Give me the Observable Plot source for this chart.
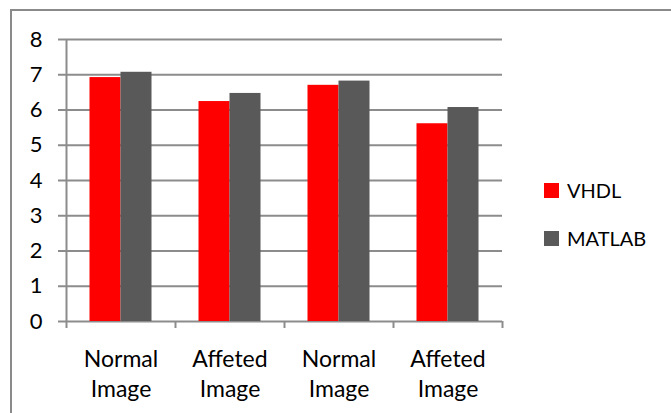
<!DOCTYPE html>
<html>
<head>
<meta charset="utf-8">
<script src="https://cdn.jsdelivr.net/npm/d3@7"></script>
<script src="https://cdn.jsdelivr.net/npm/@observablehq/plot@0.6"></script>
<style>
  html, body { margin: 0; padding: 0; background: #fff; }
  #wrap { position: relative; width: 671px; height: 413px; overflow: hidden; font-family: Lato, "Open Sans", sans-serif; }
  #box { position: absolute; left: 10px; top: 9px; width: 700px; height: 500px;
         border-left: 2px solid #8a8a8a; border-top: 2px solid #8a8a8a; }
  #chart { position: absolute; left: 0; top: 0; }
  #legend { position: absolute; left: 544px; top: 176px; font-size: 20px; color: #000; }
  .item { display: flex; align-items: center; height: 28px; margin-bottom: 20px; }
  .sw { width: 15px; height: 15px; margin-right: 8px; }
</style>
</head>
<body>
<div id="wrap">
  <div id="box"></div>
  <div id="chart"></div>
  <div id="legend"></div>
</div>
<script>
// Category labels along the x axis (one per group of bars)
const groups = ["Normal Image", "Affeted Image", "Normal Image", "Affeted Image"];
// Series names and colours
const seriesNames = ["VHDL", "MATLAB"];
const seriesColors = ["#ff0000", "#595959"];
// Values per group
const vhdl = [6.92, 6.24, 6.70, 5.61];
const matlab = [7.07, 6.47, 6.82, 6.07];
// Y axis ticks
const yTicks = [0, 1, 2, 3, 4, 5, 6, 7, 8];

const idx = groups.map((_, i) => i);
const rowsV = idx.map(i => ({g: i, series: "VHDL", value: vhdl[i]}));
const rowsM = idx.map(i => ({g: i, series: "MATLAB", value: matlab[i]}));

const gridColor = "#8c8c8c";
const marginLeft = 66, marginRight = 169;
const W = 671;
const band = (W - marginLeft - marginRight) / groups.length;
const half = band / 2;
const outerPad = 23.5, barW = (band - 2 * outerPad) / 2;

const chart = Plot.plot({
  width: W,
  height: 413,
  marginLeft,
  marginRight,
  marginTop: 39,
  marginBottom: 92,
  style: {fontFamily: "Lato, 'Open Sans', sans-serif", color: "#000", background: "transparent"},
  x: {domain: idx, padding: 0, axis: null},
  y: {domain: [0, 8], axis: null},
  marks: [
    Plot.gridY(yTicks, {stroke: gridColor, strokeOpacity: 1, strokeWidth: 2}),
    Plot.barY(rowsV, {x: "g", y: "value", fill: seriesColors[0], insetLeft: outerPad, insetRight: outerPad + barW}),
    Plot.barY(rowsM, {x: "g", y: "value", fill: seriesColors[1], insetLeft: outerPad + barW, insetRight: outerPad}),
    // vertical axis line at the left edge of the first group
    Plot.ruleX([0], {x: d => d, dx: -half, stroke: gridColor, strokeWidth: 2}),
    Plot.axisY(yTicks, {tickSize: 8, tickPadding: 16, stroke: gridColor, strokeWidth: 2, fontSize: 22, tickFormat: d => String(d), label: null}),
    // tick marks at group boundaries
    Plot.axisX(idx, {tickSize: 7, dx: -half, stroke: gridColor, strokeWidth: 2, tickFormat: () => "", label: null}),
    Plot.axisX([idx[idx.length - 1]], {tickSize: 7, dx: half, stroke: gridColor, strokeWidth: 2, tickFormat: () => "", label: null}),
    // group labels
    Plot.axisX(idx, {tickSize: 0, tickPadding: 25, fontSize: 23, lineHeight: 1.28, tickFormat: i => groups[i].replace(" ", "\n"), label: null})
  ]
});
document.getElementById("chart").appendChild(chart);

const legend = document.getElementById("legend");
seriesNames.forEach((name, k) => {
  const item = document.createElement("div");
  item.className = "item";
  const sw = document.createElement("div");
  sw.className = "sw";
  sw.style.background = seriesColors[k];
  const label = document.createElement("span");
  label.textContent = name;
  item.appendChild(sw);
  item.appendChild(label);
  legend.appendChild(item);
});
</script>
</body>
</html>
